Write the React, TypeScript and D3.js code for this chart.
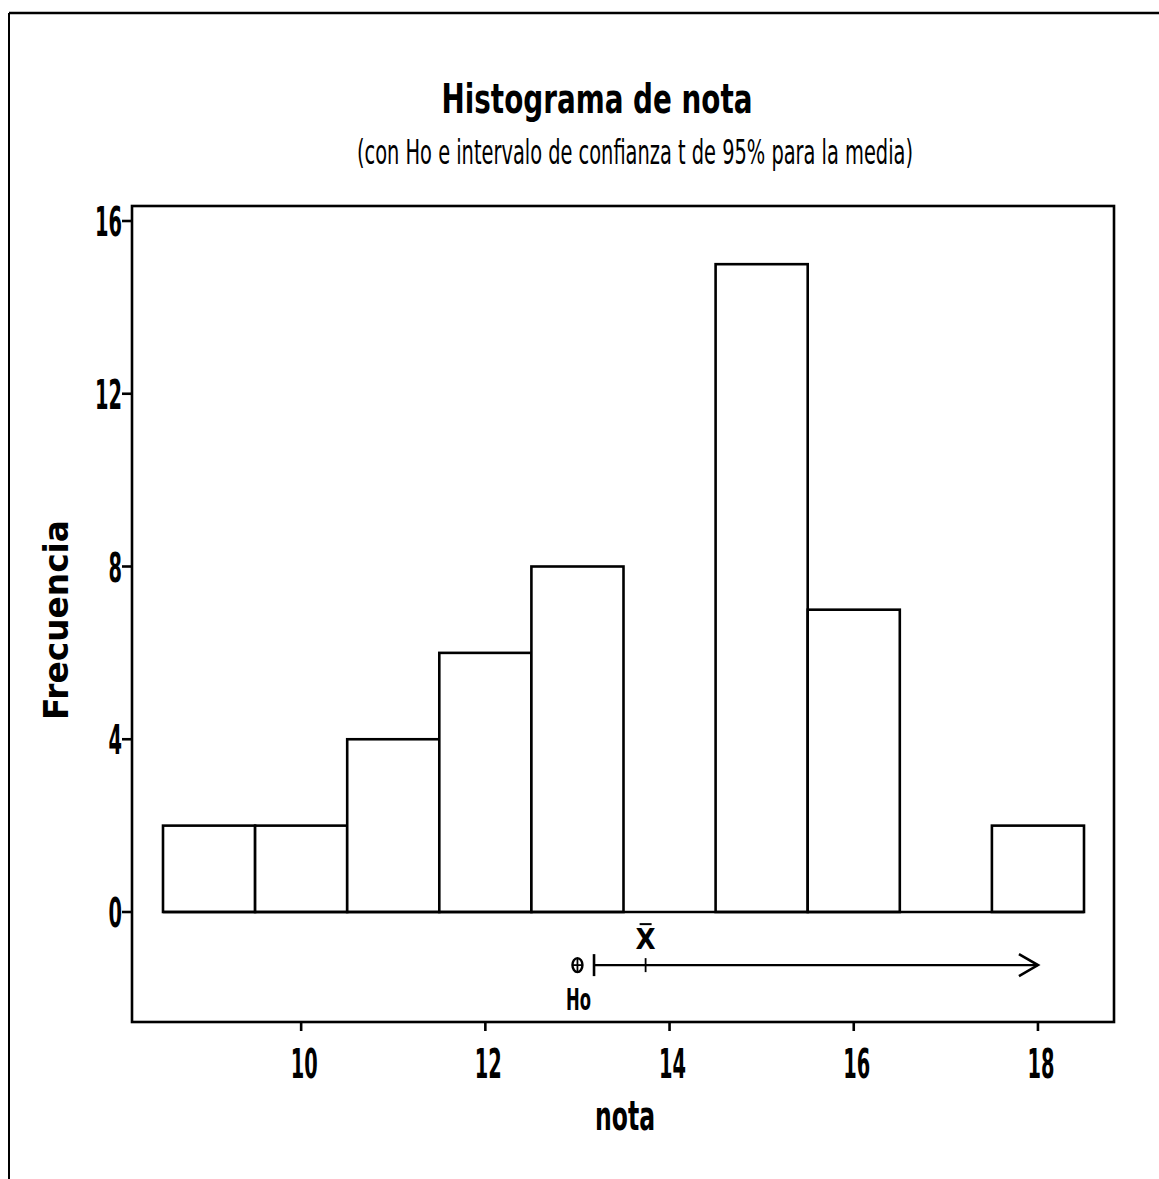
import React from "react"
import * as d3 from "d3"

// histogram bins (centre of each bin, width 1) and frequencies
const binMids = [9, 10, 11, 12, 13, 14, 15, 16, 17, 18]
const counts = [2, 2, 4, 6, 8, 0, 15, 7, 0, 2]
const binWidth = 1

const xTicks = [10, 12, 14, 16, 18]
const yTicks = [0, 4, 8, 12, 16]

// hypothesis test / one-sided t interval
const ho = 13
const lowerBound = 13.18
const upperBound = 18.0 // arrow drawn to here (unbounded above)
const mean = 13.74
const ciRowValue = -1.23

const title = "Histograma de nota"
const subtitle = "(con Ho e intervalo de confianza t de 95% para la media)"
const xLabel = "nota"
const yLabel = "Frecuencia"

const narrow = "'Liberation Sans Narrow', 'DejaVu Sans Condensed', 'Arial Narrow', sans-serif"
const wide = "'DejaVu Sans', Verdana, sans-serif"

const App: React.FC = () => {
  const W = 1159
  const H = 1179
  const frame = { left: 132, right: 1114, top: 206, bottom: 1022 }

  const x = d3.scaleLinear().domain([8.5, 18.5]).range([163, 1084])
  const y = d3.scaleLinear().domain([0, 16]).range([912, 221])

  const sw = 2.6
  const cy = y(ciRowValue)

  const digitLen = (s: string) => s.length * 13.5

  return (
    <svg width={W} height={H} style={{ position: "absolute", left: 0, top: 0, background: "#fff" }}>
      {/* outer page border */}
      <line x1={9} x2={W} y1={13} y2={13} stroke="#000" strokeWidth={2.5} />
      <line x1={9} x2={9} y1={13} y2={H} stroke="#000" strokeWidth={2} />

      {/* titles */}
      <text x={597} y={113} textAnchor="middle" fontFamily={narrow} fontWeight="bold" fontSize={40}
        textLength={311} lengthAdjust="spacingAndGlyphs">{title}</text>
      <text x={635} y={164} textAnchor="middle" fontFamily={narrow} fontSize={33}
        textLength={556} lengthAdjust="spacingAndGlyphs">{subtitle}</text>

      {/* plot frame */}
      <rect x={frame.left} y={frame.top} width={frame.right - frame.left} height={frame.bottom - frame.top}
        fill="none" stroke="#000" strokeWidth={sw} />

      {/* bars */}
      {binMids.map((m, i) => (
        <rect key={i}
          x={x(m - binWidth / 2)}
          y={y(counts[i])}
          width={x(m + binWidth / 2) - x(m - binWidth / 2)}
          height={y(0) - y(counts[i])}
          fill="#fff" stroke="#000" strokeWidth={sw} />
      ))}
      {/* baseline along empty bins */}
      <line x1={x(binMids[0] - binWidth / 2)} x2={x(binMids[binMids.length - 1] + binWidth / 2)}
        y1={y(0)} y2={y(0)} stroke="#000" strokeWidth={sw} />

      {/* y axis */}
      {yTicks.map(t => (
        <g key={t}>
          <line x1={frame.left - 10} x2={frame.left} y1={y(t)} y2={y(t)} stroke="#000" strokeWidth={sw} />
          <text x={122} y={y(t) + 15} textAnchor="end" fontFamily={narrow} fontWeight="bold" fontSize={41}
            textLength={digitLen(String(t))} lengthAdjust="spacingAndGlyphs">{t}</text>
        </g>
      ))}

      {/* x axis */}
      {xTicks.map(t => (
        <g key={t}>
          <line x1={x(t)} x2={x(t)} y1={frame.bottom} y2={frame.bottom + 9} stroke="#000" strokeWidth={sw} />
          <text x={x(t) + 3} y={1078} textAnchor="middle" fontFamily={narrow} fontWeight="bold" fontSize={41}
            textLength={digitLen(String(t))} lengthAdjust="spacingAndGlyphs">{t}</text>
        </g>
      ))}

      {/* axis labels */}
      <text x={625} y={1130} textAnchor="middle" fontFamily={narrow} fontWeight="bold" fontSize={40}
        textLength={60} lengthAdjust="spacingAndGlyphs">{xLabel}</text>
      <text transform={`translate(68,620) rotate(-90)`} textAnchor="middle" fontFamily={wide} fontWeight="bold"
        fontSize={33} textLength={200} lengthAdjust="spacingAndGlyphs">{yLabel}</text>

      {/* confidence interval row */}
      <g stroke="#000" fill="none" strokeWidth={2.2}>
        <line x1={x(lowerBound)} x2={x(upperBound)} y1={cy} y2={cy} />
        <line x1={x(lowerBound)} x2={x(lowerBound)} y1={cy - 11} y2={cy + 11} strokeWidth={2.6} />
        <line x1={x(mean)} x2={x(mean)} y1={cy - 7} y2={cy + 7} strokeWidth={1.8} />
        <polyline points={`${x(upperBound) - 19},${cy - 11} ${x(upperBound)},${cy} ${x(upperBound) - 19},${cy + 11}`}
          strokeWidth={2.6} />
        {/* Ho marker */}
        <ellipse cx={x(ho)} cy={cy} rx={5} ry={7} strokeWidth={2.4} />
        <line x1={x(ho) - 5} x2={x(ho) + 5} y1={cy} y2={cy} strokeWidth={1.8} />
        <line x1={x(ho)} x2={x(ho)} y1={cy - 7} y2={cy + 7} strokeWidth={1.8} />
      </g>
      <text x={x(ho) + 1} y={cy + 45} textAnchor="middle" fontFamily={narrow} fontWeight="bold" fontSize={30}
        textLength={25} lengthAdjust="spacingAndGlyphs">Ho</text>
      <text x={x(mean)} y={cy - 16} textAnchor="middle" fontFamily={narrow} fontWeight="bold" fontSize={29}>X</text>
      <line x1={x(mean) - 6} x2={x(mean) + 6} y1={cy - 41} y2={cy - 41} stroke="#000" strokeWidth={2} />
    </svg>
  )
}

export default App
